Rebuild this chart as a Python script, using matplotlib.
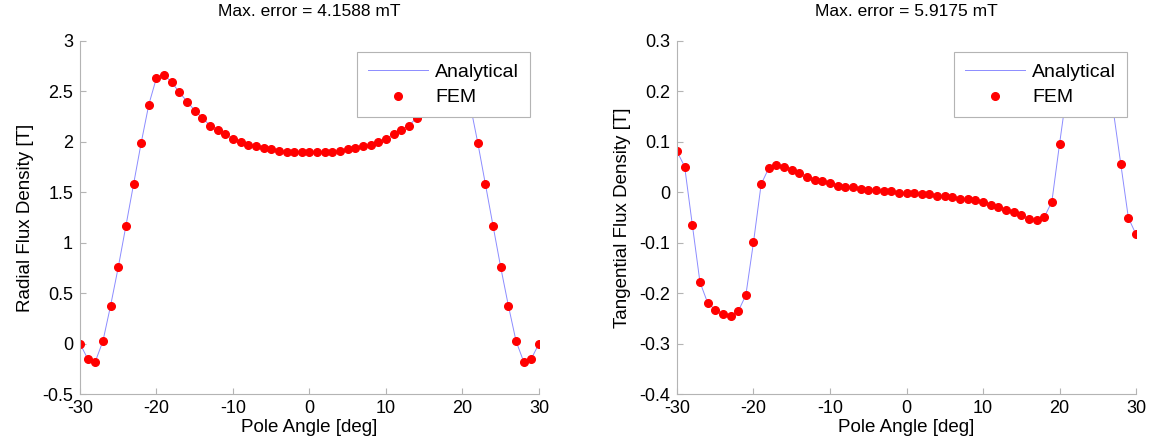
import matplotlib

matplotlib.use("Agg")
import matplotlib.pyplot as plt
import numpy as np

plt.rcParams["font.family"] = ["Liberation Sans", "DejaVu Sans"]
plt.rcParams["axes.unicode_minus"] = False

# pole angle in degrees, one sample per degree
angle = np.arange(-30, 31)

radial_fem = [
    0.0, -0.15, -0.18, 0.025, 0.375, 0.755, 1.165, 1.578, 1.99, 2.37,
    2.635, 2.665, 2.59, 2.49, 2.40, 2.31, 2.24, 2.16, 2.12, 2.075,
    2.03, 2.00, 1.97, 1.956, 1.94, 1.926, 1.913, 1.90, 1.897, 1.897,
    1.897,
    1.897, 1.897, 1.90, 1.913, 1.926, 1.94, 1.956, 1.97, 2.00, 2.03,
    2.075, 2.12, 2.16, 2.24, 2.31, 2.40, 2.49, 2.59, 2.665, 2.635,
    2.37, 1.99, 1.578, 1.165, 0.755, 0.375, 0.025, -0.18, -0.15, 0.0,
]
radial_analytical = radial_fem

tangential_fem = [
    0.081, 0.051, -0.064, -0.178, -0.219, -0.233, -0.242, -0.246, -0.236, -0.204,
    -0.099, 0.016, 0.048, 0.054, 0.051, 0.045, 0.039, 0.030, 0.0245, 0.022,
    0.0185, 0.013, 0.010, 0.0105, 0.007, 0.0046, 0.0046, 0.002, 0.002, -0.001,
    -0.0013,
    -0.0013, -0.004, -0.004, -0.0066, -0.0066, -0.010, -0.0126, -0.0126, -0.0153, -0.0186,
    -0.0246, -0.0286, -0.0345, -0.0398, -0.045, -0.053, -0.0557, -0.0497, -0.0186, 0.0954,
    0.205, 0.236, 0.246, 0.242, 0.233, 0.219, 0.165, 0.057, -0.0505, -0.0835,
]
tangential_analytical = tangential_fem

panels = [
    (radial_analytical, radial_fem, "Radial Flux Density [T]",
     "Max. error = 4.1588 mT", (-0.5, 3), np.arange(-0.5, 3.01, 0.5)),
    (tangential_analytical, tangential_fem, "Tangential Flux Density [T]",
     "Max. error = 5.9175 mT", (-0.4, 0.3), np.arange(-0.4, 0.301, 0.1)),
]

fig = plt.figure(figsize=(11.49, 4.48), dpi=100)
lefts = [0.0696, 0.5892]
grey = "#b4b4b4"

for left, (ana, fem, ylabel, title, ylim, yticks) in zip(lefts, panels):
    ax = fig.add_axes([left, 0.1205, 0.3995, 0.788])
    ax.plot(angle, ana, color="#8c8cff", linewidth=0.7, label="Analytical")
    ax.plot(angle, fem, linestyle="none", marker="o", markersize=5.5,
            color="red", markeredgecolor="red", label="FEM")
    ax.set_xlim(-30, 30)
    ax.set_ylim(*ylim)
    ax.set_xticks(np.arange(-30, 31, 10))
    ax.set_yticks(yticks)
    ax.set_yticklabels([f"{v + 0.0:g}" for v in np.round(yticks, 2)])
    ax.spines[["top", "right"]].set_visible(False)
    for side in ["left", "bottom"]:
        ax.spines[side].set_color(grey)
        ax.spines[side].set_linewidth(0.8)
    ax.tick_params(direction="in", length=4, color=grey, labelsize=13)
    ax.tick_params(axis="y", pad=5)
    ax.tick_params(axis="x", pad=4)
    ax.set_xlabel("Pole Angle [deg]", fontsize=13.5, labelpad=2)
    ax.set_ylabel(ylabel, fontsize=13.5, labelpad=6)
    ax.set_title(title, fontsize=12.5, pad=18)
    leg = ax.legend(loc="upper right", bbox_to_anchor=(0.98, 0.968), fontsize=14,
                    handlelength=3.1, handletextpad=0.35, fancybox=False,
                    framealpha=1, edgecolor=grey, borderpad=0.55,
                    labelspacing=0.42, borderaxespad=0)
    leg.get_frame().set_linewidth(0.8)

fig.savefig("out.png", dpi=100)
